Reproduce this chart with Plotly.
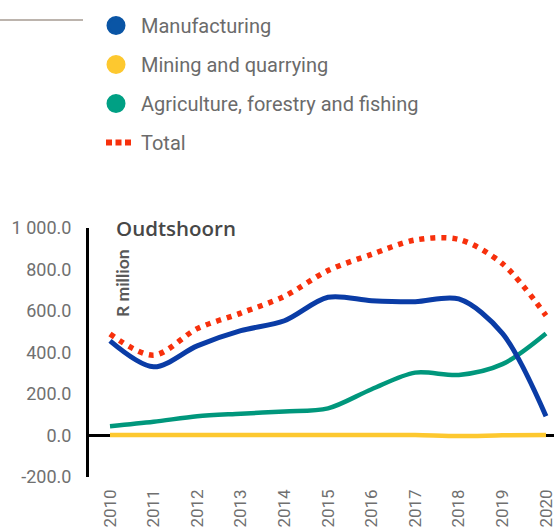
import plotly.graph_objects as go

# Annual values, R million
years = [2010, 2011, 2012, 2013, 2014, 2015, 2016, 2017, 2018, 2019, 2020]
year_labels = [str(y) for y in years]
manufacturing = [456, 331, 432, 505, 553, 666, 650, 645, 658, 492, 93]
mining = [2, 2, 2, 2, 3, 2, 3, 2, -3, 1, 3]
agriculture = [45, 66, 93, 105, 116, 131, 223, 303, 292, 344, 492]
total = [489, 387, 515, 590, 671, 795, 873, 942, 945, 828, 578]

y_ticks = [-200, 0, 200, 400, 600, 800, 1000]
y_tick_text = ["-200.0", "0.0", "200.0", "400.0", "600.0", "800.0", "1 000.0"]

C_MAN = "#0a3ca6"
C_MIN = "#fdc82f"
C_AGR = "#00977c"
C_TOT = "#f7300c"
LEGEND_MAN = "#0a55a5"

fig = go.Figure()

# Series lines (legend handled by separate entries below)
fig.add_trace(go.Scatter(x=years, y=agriculture, mode="lines", showlegend=False,
                         line=dict(color=C_AGR, width=4.5, shape="spline", smoothing=0.9)))
fig.add_trace(go.Scatter(x=years, y=mining, mode="lines", showlegend=False,
                         line=dict(color=C_MIN, width=4.5, shape="spline", smoothing=0.9)))
fig.add_trace(go.Scatter(x=years, y=manufacturing, mode="lines", showlegend=False,
                         line=dict(color=C_MAN, width=5, shape="spline", smoothing=0.9)))
fig.add_trace(go.Scatter(x=years, y=total, mode="lines", showlegend=False,
                         line=dict(color=C_TOT, width=5.5, shape="spline", smoothing=0.9,
                                   dash="5px,6px")))

# Legend entries: round swatches for the sectors, three dots for the total
for name, col, grp in [("Manufacturing", LEGEND_MAN, "a"),
                       ("Mining and quarrying", C_MIN, "b"),
                       ("Agriculture, forestry and fishing", "#00a084", "c")]:
    fig.add_trace(go.Scatter(x=[None], y=[None], mode="markers", name=name,
                             legendgroup=grp,
                             marker=dict(color=col, size=16, symbol="circle",
                                         line=dict(color=col, width=3))))
fig.add_trace(go.Scatter(x=[None], y=[None], mode="lines", name="Total", legendgroup="d",
                         line=dict(color=C_TOT, width=6,
                                   dash="0px,10px,6px,3.5px,6px,3.5px,6px,200px")))

x0 = 2010 - 21 / 43.6
x1 = x0 + 465 / 43.6

fig.update_layout(
    width=554, height=528,
    margin=dict(l=89, r=0, t=228, b=51, autoexpand=False),
    paper_bgcolor="white", plot_bgcolor="white",
    font=dict(family="Roboto", color="#707070"),
    showlegend=True,
    legend=dict(xref="container", yref="container", x=91 / 554, y=1 - 6 / 528,
                xanchor="left", yanchor="top", traceorder="grouped",
                tracegroupgap=10, itemwidth=40,
                font=dict(family="Roboto", size=20, color="#6b6b6b"),
                bgcolor="rgba(0,0,0,0)"),
    xaxis=dict(range=[x0, x1], tickvals=years, ticktext=year_labels, tickangle=-90,
               showgrid=False, zeroline=False, showline=False, ticks="",
               tickfont=dict(family="Roboto", size=17, color="#707070"),
               ticklabelstandoff=8, ticklabeloverflow="allow", automargin=False),
    yaxis=dict(range=[-200, 1000], tickvals=y_ticks, ticktext=y_tick_text,
               showgrid=False, showline=True, linecolor="black", linewidth=3,
               zeroline=True, zerolinecolor="black", zerolinewidth=3, ticks="",
               tickfont=dict(family="Roboto", size=18, color="#707070"),
               ticklabelstandoff=11, automargin=False),
    shapes=[dict(type="line", xref="paper", yref="paper",
                 x0=-89 / 465, x1=(83 - 89) / 465,
                 y0=(477 - 20) / 249, y1=(477 - 20) / 249,
                 line=dict(color="#bcb4ad", width=2))],
    annotations=[
        dict(text="Oudtshoorn", xref="paper", yref="paper",
             x=(114 - 89) / 465, y=(477 - 228) / 249, xanchor="left", yanchor="middle",
             showarrow=False,
             font=dict(family="Open Sans", size=20.5, color="#474747", weight=600)),
        dict(text="R million", xref="paper", yref="paper", textangle=-90,
             x=(122 - 89) / 465, y=(477 - 283) / 249, xanchor="center", yanchor="middle",
             showarrow=False, font=dict(family="Lato", size=17.5, color="#595959", weight=700)),
    ],
)

fig.write_html("out.html")
